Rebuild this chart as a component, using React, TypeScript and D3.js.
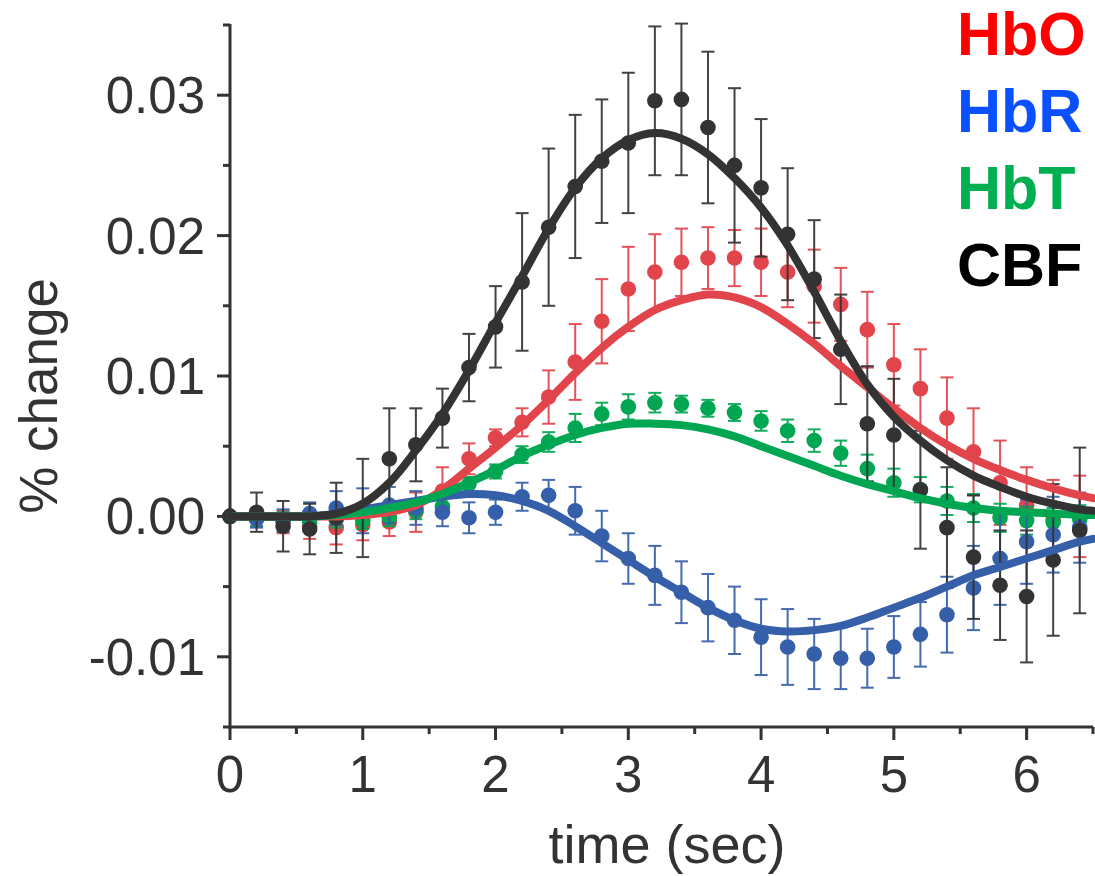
import React from "react";
import * as d3 from "d3";

// ---- data ----
const TIMES = [0, 0.2, 0.4, 0.6, 0.8, 1.0, 1.2, 1.4, 1.6, 1.8, 2.0, 2.2, 2.4, 2.6, 2.8, 3.0, 3.2, 3.4, 3.6, 3.8, 4.0, 4.2, 4.4, 4.6, 4.8, 5.0, 5.2, 5.4, 5.6, 5.8, 6.0, 6.2, 6.4];

const CBF_MEAN = [0, 0.0003, -0.0007, -0.0009, -0.0001, 0.0006, 0.0041, 0.0051, 0.0070, 0.0106, 0.0135, 0.0167, 0.0206, 0.0235, 0.0253, 0.0266, 0.0296, 0.0297, 0.0277, 0.0250, 0.0234, 0.0201, 0.0169, 0.0119, 0.0066, 0.0058, 0.0019, -0.0008, -0.0029, -0.0049, -0.0057, -0.0031, -0.0010];
const CBF_ERR = [0, 0.0014, 0.0018, 0.0018, 0.0025, 0.0035, 0.0036, 0.0026, 0.0021, 0.0024, 0.0029, 0.0049, 0.0056, 0.0051, 0.0044, 0.0050, 0.0053, 0.0054, 0.0054, 0.0055, 0.0049, 0.0047, 0.0042, 0.0039, 0.0041, 0.0040, 0.0042, 0.0043, 0.0044, 0.0039, 0.0047, 0.0054, 0.0059];

const HBO_MEAN = [0, -0.0001, -0.0004, -0.0007, -0.0008, -0.0006, -0.0004, 0.0003, 0.0018, 0.0041, 0.0056, 0.0067, 0.0085, 0.0110, 0.0139, 0.0162, 0.0174, 0.0181, 0.0184, 0.0184, 0.0181, 0.0174, 0.0164, 0.0151, 0.0133, 0.0108, 0.0091, 0.0070, 0.0046, 0.0024, 0.0008, -0.0002, 0.0000];
const HBO_ERR = [0, 0.0006, 0.0008, 0.0009, 0.0012, 0.0011, 0.0010, 0.0014, 0.0017, 0.0011, 0.0006, 0.0010, 0.0019, 0.0027, 0.0030, 0.0030, 0.0027, 0.0024, 0.0022, 0.0020, 0.0024, 0.0025, 0.0026, 0.0026, 0.0027, 0.0029, 0.0028, 0.0029, 0.0031, 0.0030, 0.0027, 0.0028, 0.0029];

const HBR_MEAN = [0, -0.0002, -0.0003, 0.0002, 0.0006, 0.0004, 0.0008, 0.0006, 0.0003, -0.0001, 0.0003, 0.0014, 0.0015, 0.0004, -0.0014, -0.0030, -0.0042, -0.0054, -0.0065, -0.0074, -0.0086, -0.0093, -0.0098, -0.0101, -0.0101, -0.0093, -0.0084, -0.0070, -0.0051, -0.0030, -0.0018, -0.0013, -0.0008];
const HBR_ERR = [0, 0.0006, 0.0008, 0.0008, 0.0012, 0.0016, 0.0013, 0.0012, 0.0010, 0.0011, 0.0009, 0.0010, 0.0011, 0.0017, 0.0018, 0.0018, 0.0021, 0.0022, 0.0024, 0.0024, 0.0027, 0.0027, 0.0025, 0.0022, 0.0021, 0.0022, 0.0023, 0.0027, 0.0030, 0.0033, 0.0030, 0.0027, 0.0025];

const HBT_MEAN = [0, -0.0001, -0.0003, -0.0004, -0.0002, -0.0003, -0.0001, 0.0004, 0.0007, 0.0023, 0.0032, 0.0044, 0.0053, 0.0063, 0.0073, 0.0078, 0.0081, 0.0080, 0.0077, 0.0074, 0.0068, 0.0061, 0.0054, 0.0045, 0.0034, 0.0024, 0.0019, 0.0011, 0.0006, -0.0001, -0.0003, -0.0004, -0.0002];
const HBT_ERR = [0, 0.0006, 0.0006, 0.0006, 0.0006, 0.0006, 0.0006, 0.0006, 0.0006, 0.0005, 0.0005, 0.0006, 0.0007, 0.0010, 0.0008, 0.0009, 0.0007, 0.0006, 0.0006, 0.0006, 0.0007, 0.0008, 0.0008, 0.0009, 0.0010, 0.0010, 0.0009, 0.0010, 0.0010, 0.0010, 0.0010, 0.0010, 0.0010];

// fitted curves
const FIT_TIMES = [0, 0.2, 0.4, 0.6, 0.8, 1.0, 1.2, 1.4, 1.6, 1.8, 2.0, 2.2, 2.4, 2.6, 2.8, 3.0, 3.2, 3.4, 3.6, 3.8, 4.0, 4.2, 4.4, 4.6, 4.8, 5.0, 5.2, 5.4, 5.6, 5.8, 6.0, 6.2, 6.4, 6.5];
const CBF_FIT = [0, 0, 0, 0, 0.0002, 0.0009, 0.0024, 0.0047, 0.0073, 0.0104, 0.0138, 0.0171, 0.0205, 0.0234, 0.0255, 0.0268, 0.0273, 0.0269, 0.0258, 0.0241, 0.0220, 0.0193, 0.0160, 0.0125, 0.0094, 0.0071, 0.0054, 0.0040, 0.0029, 0.0021, 0.0014, 0.0009, 0.0005, 0.0004];
const HBO_FIT = [0, 0, 0, 0, 0, 0.0001, 0.0003, 0.0008, 0.0019, 0.0034, 0.0049, 0.0065, 0.0083, 0.0102, 0.0120, 0.0135, 0.0147, 0.0154, 0.0158, 0.0156, 0.0149, 0.0137, 0.0123, 0.0107, 0.0092, 0.0077, 0.0063, 0.0051, 0.0041, 0.0033, 0.0026, 0.0020, 0.0015, 0.0013];
const HBR_FIT = [0, 0, 0, 0, 0.0002, 0.0005, 0.0008, 0.0011, 0.0014, 0.0016, 0.0015, 0.0011, 0.0004, -0.0007, -0.0019, -0.0031, -0.0043, -0.0054, -0.0065, -0.0074, -0.0080, -0.0082, -0.0081, -0.0078, -0.0072, -0.0065, -0.0058, -0.0050, -0.0042, -0.0036, -0.0030, -0.0024, -0.0018, -0.0016];
const HBT_FIT = [0, 0, 0, 0, 0.0001, 0.0003, 0.0006, 0.0010, 0.0016, 0.0024, 0.0033, 0.0043, 0.0051, 0.0058, 0.0063, 0.0066, 0.0066, 0.0065, 0.0062, 0.0057, 0.0050, 0.0043, 0.0036, 0.0029, 0.0023, 0.0018, 0.0013, 0.0009, 0.0006, 0.0004, 0.0003, 0.0002, 0.0001, 0.0001];

const X_TICKS = [0, 1, 2, 3, 4, 5, 6];
const X_MINOR = [0.5, 1.5, 2.5, 3.5, 4.5, 5.5, 6.5];
const Y_TICKS = [-0.01, 0.0, 0.01, 0.02, 0.03];
const Y_TICK_LABELS = ["-0.01", "0.00", "0.01", "0.02", "0.03"];
const Y_MINOR = [-0.015, -0.005, 0.005, 0.015, 0.025, 0.035];

const LEGEND = ["HbO", "HbR", "HbT", "CBF"];
const LEGEND_COLORS = ["#ff0000", "#0a50ff", "#00b050", "#000000"];

const SERIES = [
  { name: "HbO", mean: HBO_MEAN, err: HBO_ERR, fit: HBO_FIT, color: "#e2444c" },
  { name: "HbT", mean: HBT_MEAN, err: HBT_ERR, fit: HBT_FIT, color: "#00a651" },
  { name: "HbR", mean: HBR_MEAN, err: HBR_ERR, fit: HBR_FIT, color: "#355fa9" },
  { name: "CBF", mean: CBF_MEAN, err: CBF_ERR, fit: CBF_FIT, color: "#333333" },
];
const FIT_ORDER = ["HbO", "HbR", "HbT", "CBF"];

const FONT = "'Liberation Sans', Arial, Helvetica, sans-serif";
const AXIS = "#333333";

export default function App() {
  const W = 1095, H = 876;
  const x = d3.scaleLinear().domain([0, 6.5]).range([230, 1093]);
  const y = d3.scaleLinear().domain([-0.015, 0.035]).range([727, 25]);
  const line = d3
    .line<number>()
    .x((_, i) => x(FIT_TIMES[i]))
    .y((d) => y(d))
    .curve(d3.curveCatmullRom.alpha(0.5));

  const axisY = y(-0.015);
  const axisX = x(0);

  return (
    <svg
      width={W}
      height={H}
      style={{ position: "absolute", left: 0, top: 0, background: "#fff" }}
      fontFamily={FONT}
    >
      {/* error bars and dots */}
      {SERIES.map((s) => (
        <g key={s.name}>
          {TIMES.map((t, i) => {
            const e = s.err[i];
            if (!e) return null;
            const cx = x(t);
            const y1 = y(s.mean[i] + e);
            const y2 = y(s.mean[i] - e);
            return (
              <g key={i} stroke={s.color} strokeWidth={2} opacity={0.92}>
                <line x1={cx} x2={cx} y1={y1} y2={y2} />
                <line x1={cx - 6.5} x2={cx + 6.5} y1={y1} y2={y1} />
                <line x1={cx - 6.5} x2={cx + 6.5} y1={y2} y2={y2} />
              </g>
            );
          })}
          {TIMES.map((t, i) => (
            <circle key={"c" + i} cx={x(t)} cy={y(s.mean[i])} r={7.8} fill={s.color} />
          ))}
        </g>
      ))}

      {/* fitted curves */}
      {FIT_ORDER.map((n) => {
        const s = SERIES.find((d) => d.name === n)!;
        return (
          <path
            key={"f" + n}
            d={line(s.fit) || ""}
            fill="none"
            stroke={s.color}
            strokeWidth={8}
            strokeLinecap="round"
            strokeLinejoin="round"
          />
        );
      })}

      {/* axes */}
      <g stroke={AXIS} strokeWidth={3} fill="none">
        <line x1={axisX} x2={axisX} y1={y(0.035) - 1} y2={axisY + 1.5} />
        <line x1={axisX - 1.5} x2={x(6.5)} y1={axisY} y2={axisY} />
        {Y_TICKS.map((v) => (
          <line key={"yt" + v} x1={axisX - 13} x2={axisX} y1={y(v)} y2={y(v)} />
        ))}
        {Y_MINOR.map((v) => (
          <line key={"ym" + v} x1={axisX - 7} x2={axisX} y1={y(v)} y2={y(v)} />
        ))}
        {X_TICKS.map((v) => (
          <line key={"xt" + v} x1={x(v)} x2={x(v)} y1={axisY} y2={axisY + 13} />
        ))}
        {X_MINOR.map((v) => (
          <line key={"xm" + v} x1={x(v)} x2={x(v)} y1={axisY} y2={axisY + 7} />
        ))}
      </g>

      {/* tick labels */}
      <g fill={AXIS} fontSize={51}>
        {Y_TICKS.map((v, i) => (
          <text key={"yl" + v} x={205} y={y(v) + 18} textAnchor="end">
            {Y_TICK_LABELS[i]}
          </text>
        ))}
        {X_TICKS.map((v) => (
          <text key={"xl" + v} x={x(v)} y={792} textAnchor="middle">
            {String(v)}
          </text>
        ))}
      </g>

      {/* axis titles */}
      <text x={667} y={863} textAnchor="middle" fontSize={54} fill={AXIS}>
        time (sec)
      </text>
      <text
        transform={`translate(57, 396) rotate(-90)`}
        textAnchor="middle"
        fontSize={53}
        fill={AXIS}
      >
        % change
      </text>

      {/* legend */}
      <g fontSize={61} fontWeight="bold">
        {LEGEND.map((l, i) => (
          <text key={l} x={957} y={55 + i * 77} fill={LEGEND_COLORS[i]}>
            {l}
          </text>
        ))}
      </g>
    </svg>
  );
}
